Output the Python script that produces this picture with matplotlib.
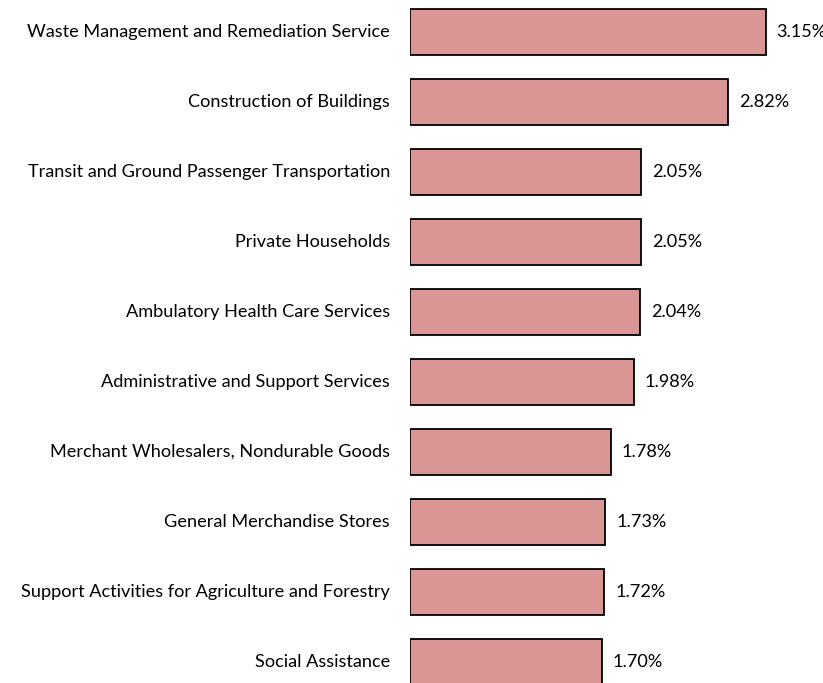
import matplotlib
matplotlib.use("Agg")
import matplotlib.pyplot as plt

categories = [
    "Waste Management and Remediation Service",
    "Construction of Buildings",
    "Transit and Ground Passenger Transportation",
    "Private Households",
    "Ambulatory Health Care Services",
    "Administrative and Support Services",
    "Merchant Wholesalers, Nondurable Goods",
    "General Merchandise Stores",
    "Support Activities for Agriculture and Forestry",
    "Social Assistance",
]
values = [3.15, 2.82, 2.05, 2.05, 2.04, 1.98, 1.78, 1.73, 1.72, 1.70]
value_labels = ["3.15%", "2.82%", "2.05%", "2.05%", "2.04%", "1.98%", "1.78%", "1.73%", "1.72%", "1.70%"]

W, H = 823, 683
fig = plt.figure(figsize=(W / 100, H / 100), dpi=100)
scale = 112.9  # px per unit
ax_left = 410
ax_w = 3.6 * scale
ax = fig.add_axes([ax_left / W, 0, ax_w / W, 1])

ypos = list(range(len(categories)))
ax.barh(ypos, values, height=46 / 70, color="#D99694", edgecolor="black", linewidth=1.3)
ax.set_xlim(0, 3.6)
ax.set_ylim((H - 32) / 70, -32 / 70)

font = "Lato"
for i, (c, v, lab) in enumerate(zip(categories, values, value_labels)):
    ax.annotate(c, xy=(0, i), xytext=(-20, 0), textcoords="offset pixels",
                ha="right", va="center", fontsize=13.1, family=font, color="black",
                annotation_clip=False)
    ax.annotate(lab, xy=(v, i), xytext=(11, 0), textcoords="offset pixels",
                ha="left", va="center", fontsize=13.1, family=font, color="black",
                annotation_clip=False)

ax.axis("off")
fig.savefig("out.png", dpi=100)
